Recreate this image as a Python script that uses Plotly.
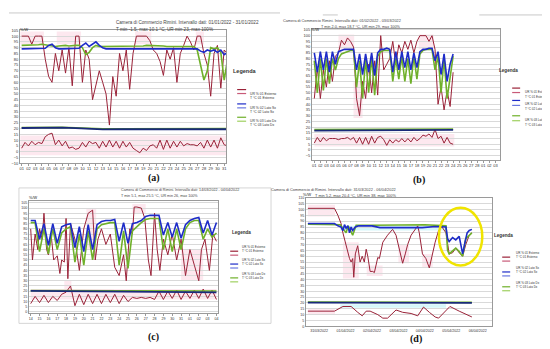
import plotly.graph_objects as go

W, H = 550, 349
def px(x): return x / W
def py(y): return 1 - y / H

FONT = "Liberation Sans"

# ---------------- Panel (a): January 2022 ----------------
days_a = [1 + 0.5 * i for i in range(62)]
ur_ext_a = [100, 100, 100, 93, 100, 100, 100, 80, 65, 60, 85, 70, 88, 68, 90, 57, 100, 100,
            60, 88, 80, 45, 58, 70, 60, 50, 23, 65, 48, 85, 70, 88, 54, 85, 100, 100, 100, 100,
            96, 88, 85, 78, 66, 88, 80, 90, 60, 85, 92, 100, 95, 88, 100, 100, 85, 75, 48, 85,
            92, 55, 88, 85]
ur_sx_a = [89, 89, 89, 89, 89.5, 89, 89, 89.5,
           92, 93, 90, 89, 89, 89, 89, 89, 89, 89.5,
           92, 94, 91, 93, 95, 92, 90, 89, 89, 89,
           89, 89, 89, 89, 89, 89, 89, 89, 89, 89, 89, 89, 89, 89, 89, 89, 89, 89, 89, 89, 89, 89, 89, 89,
           89, 87, 86, 88, 87, 88, 86, 88, 84, 86]
ur_dx_a = [92, 92, 92.5, 92, 92, 92.5, 93, 92.5, 92, 92, 91, 91.5, 92, 92, 91.5, 92, 92, 92,
           90, 84, 86, 90, 92, 91, 91, 91, 91, 91.5,
           91.5, 91, 91, 91, 91.5, 91, 91, 91, 91.5, 92, 92, 92, 91.5, 91.5, 91.5, 91, 91, 91, 91, 91.5, 91.5, 91, 91, 91,
           88, 75, 62, 70, 90, 89, 90, 86, 62, 80]
t_ext_a = [3, 8, 5, 9, 6, 8, 7, 13, 15, 16, 6, 10, 5, 9, 3, 4, 2, 3, 8, 4, 9, 7, 8, 3, 9, 4, 10, 4,
           9, 3, 9, 4, 8, 3, 1, -1, 3, 1, 5, 6, 3, 10, 2, 10, 3, 9, 4, 9, 5, 7, 6, 6, 5, 8, 3, 10,
           4, 10, 3, 12, 6, 5]
t_days_a = [1, 3, 5, 7, 9, 11, 13, 16, 20, 24, 28, 31.5]
t_sx_a = [20.5, 20.6, 21.0, 20.8, 20.3, 19.6, 19.3, 19.4, 19.4, 19.4, 19.5, 19.4]
t_dx_a = [20.8, 20.9, 21.3, 21.0, 20.6, 20.0, 19.8, 19.9, 19.9, 19.9, 20.1, 20.0]
ticks_a = ["%02d" % d for d in range(1, 32)]

# ---------------- Panel (b): February 2022 ----------------
days_b = [1 + 0.5 * i for i in range(47)]
ur_ext_b = [45, 72, 45, 70, 55, 78, 60, 82, 85, 96, 92, 98, 95, 90, 45, 30, 60, 45, 75, 50, 78, 48,
            100, 70, 75, 80, 95, 75, 92, 85, 95, 88, 96, 85, 95, 100, 100, 100, 95, 100, 88, 40,
            55, 35, 52, 38, 68]
ur_sx_b = [85, 68, 86, 70, 86, 68, 86, 75, 86, 87, 88, 88, 88, 88, 70, 84, 66, 84, 68, 85, 65, 85,
           88, 88, 89, 88, 68, 86, 70, 86, 72, 86, 70, 85, 72, 86, 88, 88, 89, 89, 78, 86, 66, 84,
           60, 75, 84]
ur_dx_b = [78, 50, 80, 52, 80, 58, 80, 70, 80, 84, 85, 86, 87, 87, 55, 78, 45, 80, 50, 82, 48, 82,
           86, 87, 87, 87, 60, 80, 62, 82, 60, 80, 58, 82, 62, 84, 87, 88, 88, 88, 70, 82, 50, 80,
           45, 65, 82]
t_ext_b = [6, 11, 7, 11, 8, 10, 10, 10, 9, 10, 10, 11, 9, 11, 6, 11, 5, 11, 5, 12, 6, 11, 12, 9,
           4, 9, 6, 9, 7, 10, 7, 10, 7, 11, 8, 10, 13, 12, 14, 11, 18, 10, 12, 6, 11, 6, 5]
t_days_b = [1, 6, 12, 18, 24]
t_sx_b = [17.0, 17.2, 17.3, 17.4, 17.6]
t_dx_b = [17.8, 17.9, 18.0, 18.2, 18.4]
ticks_b = ["%02d" % d for d in range(1, 29)] + ["01", "02", "03"]

# ---------------- Panel (c): 14 March - 4 April 2022 ----------------
x_ur_ext_c = [0, 0.2, 0.5, 0.8, 1.0, 1.3, 1.5, 1.8, 2.0, 2.3, 2.6, 3.0, 3.3, 3.5, 3.8, 4.0, 4.2, 4.5,
              5.0, 5.5, 6.0, 6.5, 7.0, 7.3, 7.6, 8.0, 8.5, 9.0, 9.5, 10.0, 10.5, 10.8, 11.2, 11.5,
              11.7, 12.0, 12.5, 12.9, 13.3, 13.6, 14.0, 14.3, 14.6, 15.0, 15.5, 16.0, 16.5, 17.0,
              17.5, 18.0, 18.5, 19.0, 19.3, 19.7, 20.2, 20.6, 21.0]
ur_ext_c = [80, 50, 75, 60, 80, 70, 95, 60, 55, 75, 50, 54, 37, 50, 48, 90, 32, 85, 70, 40, 80, 95,
            98, 50, 70, 80, 65, 75, 43, 35, 55, 30, 80, 75, 101, 101, 100, 90, 50, 35, 95, 60, 40,
            70, 55, 75, 50, 70, 35, 60, 45, 30, 60, 70, 40, 75, 68]
days_c = [0.5 * i for i in range(43)]
ur_sx_c = [88, 88, 70, 85, 64, 85, 66, 82, 84, 85, 62, 82, 58, 84, 60, 84, 87, 88, 88, 89, 68, 86,
           66, 85, 86, 88, 92, 93, 93, 93, 74, 86, 72, 86, 71, 84, 88, 90, 91, 76, 88, 74, 86]
ur_dx_c = [86, 86, 58, 80, 56, 80, 60, 76, 80, 82, 48, 75, 45, 78, 50, 80, 84, 85, 86, 86, 45, 78,
           42, 78, 82, 86, 89, 90, 90, 90, 60, 80, 58, 80, 60, 80, 86, 88, 88, 70, 80, 72, 76]
t_ext_c = [8, 15, 9, 16, 9, 15, 11, 17, 19, 25, 6, 17, 7, 17, 8, 17, 8, 17, 9, 17, 8, 16, 10, 14,
           13, 14, 13, 14, 12, 20, 12, 20, 13, 21, 12, 20, 13, 21, 13, 22, 13, 21, 12]
t_days_c = [0, 5, 10, 15, 21]
t_sx_c = [20.2, 19.8, 19.5, 19.2, 18.8]
t_dx_c = [20.5, 20.3, 20.2, 20.0, 20.2]
ticks_c = ["%02d" % d for d in range(14, 32)] + ["01", "02", "03", "04"]

# ---------------- Panel (d): 31 March - 6 April 2022 ----------------
x_ur_ext_d = [0.075, 1.08, 1.21, 1.33, 1.40, 1.52, 1.65, 1.71, 1.77, 1.81, 1.87, 1.96, 2.05, 2.13,
              2.21, 2.28, 2.34, 2.43, 2.53, 2.59, 2.72, 2.78, 2.91, 3.09, 3.28, 3.41, 3.53, 3.66,
              3.76, 3.85, 3.98, 4.10, 4.23, 4.29, 4.41, 4.54, 4.67, 4.77, 4.89, 5.02, 5.15, 5.30,
              5.42, 5.55, 5.67, 5.80, 5.93, 6.05, 6.18, 6.28]
ur_ext_d = [101, 101, 95, 88, 80, 69, 58, 55, 58, 42, 62, 69, 55, 60, 55, 66, 60, 47, 47, 46,
            59, 58, 72, 78, 83, 78, 66, 54, 62, 70, 78, 82, 86, 80, 62, 58, 50, 60, 72, 82,
            85, 80, 62, 63, 67, 63, 60, 70, 78, 80]
x_ur_sx_d = [0.075, 1.08, 1.21, 1.33, 1.40, 1.46, 1.52, 1.59, 1.65, 1.71, 1.77, 1.87, 2.0, 2.5,
             2.8, 3.5, 4.4, 4.9, 5.30, 5.36, 5.42, 5.55, 5.67, 5.80, 5.93, 6.02, 6.10, 6.18, 6.28]
ur_sx_d = [88, 88, 86, 85, 82, 87, 84, 86, 80, 85, 82, 85, 86, 86, 84.5, 84.5, 84.5, 85.5, 85,
           75, 72.5, 76, 74, 77, 62, 72, 80, 82, 83]
x_ur_dx_d = [0.075, 1.08, 1.3, 1.52, 1.6, 1.77, 1.9, 2.5, 3.5, 4.5, 5.30, 5.36, 5.42, 5.55, 5.67,
             5.80, 5.93, 6.05, 6.18, 6.28]
ur_dx_d = [87.5, 87.5, 87, 80, 86, 78, 86.5, 86.5, 86.5, 87, 86, 65, 62, 65, 67, 64, 60, 75, 78, 80]
x_t_ext_d = [0.075, 1.08, 1.4, 1.71, 1.96, 2.13, 2.28, 2.43, 2.72, 2.91, 3.09, 3.41, 3.66, 3.98,
             4.23, 4.45, 4.67, 4.89, 5.02, 5.45, 5.80, 6.10, 6.28]
t_ext_d = [13, 13, 17, 17, 12, 9, 13, 13, 10, 7, 7, 14, 12, 11, 9, 16.5, 12, 8, 7, 17, 13, 10, 8]
t_days_d = [0.075, 3, 6.28]
t_sx_d = [20.3, 20.1, 20.0]
t_dx_d = [20.8, 20.6, 20.5]
ticks_d = ["31/03/2022", "01/04/2022", "02/04/2022", "03/04/2022", "04/04/2022", "05/04/2022", "06/04/2022"]

titles = [
    ("Camera di Commercio Rimini. Intervallo dati: 01/01/2022 - 31/01/2022",
     "T min -1.5, max 10.1 °C, UR min 23, max 100%"),
    ("Camera di Commercio Rimini. Intervallo dati: 01/02/2022 - 03/03/2022",
     "T min 2.0, max 18.7 °C, UR min 29, max 100%"),
    ("Camera di Commercio di Rimini. Intervallo dati: 14/03/2022 - 04/04/2022",
     "T min 5.1, max 25.5 °C, UR min 26, max 100%"),
    ("Camera di Commercio di Rimini. Intervallo dati: 31/03/2022 - 06/04/2022",
     "T min 5.2, max 20.4 °C, UR min 38, max 100%"),
]
legend_labels = ["UR % 01 Esterno", "T °C 01 Esterno", "UR % 02 Lato Sx", "T °C 02 Lato Sx",
                 "UR % 03 Lato Dx", "T °C 03 Lato Dx"]
panel_labels = ["(a)", "(b)", "(c)", "(d)"]

C_RED = "#9a2238"
C_RED_L = "#c85a78"
C_BLUE = "#1e2cc8"
C_BLUE_L = "#6a78e0"
C_NAVY = "#1a2a7a"
C_GREEN = "#6fb02a"
C_GREEN_L = "#9fd060"
legend_colors = [C_RED, C_RED_L, C_BLUE, C_BLUE_L, C_GREEN, C_GREEN_L]

fig = go.Figure()

def add_panel(k, ext_x, ext_y, sx_x, sx_y, dx_x, dx_y, tx_ext, t_ext, t_x, t_sx, t_dx):
    xa = "x" if k == 1 else "x%d" % k
    ya = "y" if k == 1 else "y%d" % k
    common = dict(xaxis=xa, yaxis=ya, mode="lines", showlegend=False, hoverinfo="skip")
    fig.add_trace(go.Scatter(x=ext_x, y=ext_y, line=dict(color=C_RED, width=1), **common))
    fig.add_trace(go.Scatter(x=dx_x, y=dx_y, line=dict(color=C_GREEN, width=1.6), **common))
    fig.add_trace(go.Scatter(x=sx_x, y=sx_y, line=dict(color=C_BLUE, width=1.6), **common))
    fig.add_trace(go.Scatter(x=tx_ext, y=t_ext, line=dict(color=C_RED, width=1), **common))
    fig.add_trace(go.Scatter(x=t_x, y=t_dx, line=dict(color=C_GREEN, width=1.6), **common))
    fig.add_trace(go.Scatter(x=t_x, y=t_sx, line=dict(color=C_NAVY, width=1.8), **common))

add_panel(1, days_a, ur_ext_a, days_a, ur_sx_a, days_a, ur_dx_a, days_a, t_ext_a, t_days_a, t_sx_a, t_dx_a)
add_panel(2, days_b, ur_ext_b, days_b, ur_sx_b, days_b, ur_dx_b, days_b, t_ext_b, t_days_b, t_sx_b, t_dx_b)
add_panel(3, x_ur_ext_c, ur_ext_c, days_c, ur_sx_c, days_c, ur_dx_c, days_c, t_ext_c, t_days_c, t_sx_c, t_dx_c)
add_panel(4, x_ur_ext_d, ur_ext_d, x_ur_sx_d, ur_sx_d, x_ur_dx_d, ur_dx_d, x_t_ext_d, t_ext_d, t_days_d, t_sx_d, t_dx_d)

# plot area boxes in pixels: (left, top, right, bottom)
boxes = [(11, 20, 218, 155), (304, 19, 493, 152), (20, 193, 210, 307), (298, 190, 485, 320)]
yranges = [[-10, 105.5], [-9, 106], [-1.5, 107], [0, 110]]
xranges = [[0.75, 31.3], [0.6, 31.8], [-0.2, 21.2], [0, 7.05]]
xticks = [(list(range(1, 32)), ticks_a), (list(range(1, 32)), ticks_b),
          (list(range(0, 22)), ticks_c), ([i + 0.5 for i in range(7)], ticks_d)]
tfs = [4, 4, 3.6, 3.6]

layout = dict(width=W, height=H, margin=dict(l=0, r=0, t=0, b=0),
              paper_bgcolor="white", plot_bgcolor="white",
              font=dict(family=FONT, color="#333"))
for i, (l, t, r, b) in enumerate(boxes):
    k = i + 1
    xk = "xaxis" if k == 1 else "xaxis%d" % k
    yk = "yaxis" if k == 1 else "yaxis%d" % k
    xa = "x" if k == 1 else "x%d" % k
    ya = "y" if k == 1 else "y%d" % k
    layout[xk] = dict(domain=[px(l), px(r)], anchor=ya, range=xranges[i],
                      tickmode="array", tickvals=xticks[i][0], ticktext=xticks[i][1],
                      tickfont=dict(size=tfs[i], color="#333"), tickangle=0,
                      showgrid=False, zeroline=False, showline=True, mirror=True,
                      linecolor="#9a9a9a", linewidth=0.8,
                      ticks="outside" if k != 4 else "", ticklen=1.5, tickcolor="#9a9a9a")
    layout[yk] = dict(domain=[py(b), py(t)], anchor=xa, range=yranges[i],
                      tickmode="linear", tick0=0, dtick=5,
                      tickfont=dict(size=tfs[i], color="#333"),
                      showgrid=True, gridcolor="#d9d9d9", gridwidth=0.6, zeroline=False,
                      showline=True, mirror=True, linecolor="#9a9a9a", linewidth=0.8, ticks="")
fig.update_layout(**layout)

shapes = []
annotations = []

# faint background shading
def band(k, x0, x1, y0, y1, color):
    xa = "x" if k == 1 else "x%d" % k
    ya = "y" if k == 1 else "y%d" % k
    shapes.append(dict(type="rect", xref=xa, yref=ya, x0=x0, x1=x1, y0=y0, y1=y1,
                       fillcolor=color, line=dict(width=0), layer="below"))

PINK = "rgba(250,190,210,0.35)"
CYAN = "rgba(180,240,245,0.55)"
for (x0, x1, y0, y1) in [(0.8, 4.3, 93, 104), (6.2, 9.8, 93, 104), (17.8, 20.2, 93, 104),
                         (26.8, 28, 93, 104), (0.8, 31.3, -3, 14)]:
    band(1, x0, x1, y0, y1, PINK)
for (x0, x1, y0, y1) in [(5, 7.6, 88, 101), (18.3, 20.8, 88, 101), (1, 24.2, 3, 14), (7.5, 9, 28, 60)]:
    band(2, x0, x1, y0, y1, PINK)
for (x0, x1, y0, y1) in [(11.5, 13, 95, 104), (0, 21, 12, 22), (3.8, 4.6, 22, 30), (6.3, 7.4, 60, 100),
                         (17, 19.5, 30, 60)]:
    band(3, x0, x1, y0, y1, PINK)
for (x0, x1, y0, y1) in [(0.075, 1.1, 94, 104), (1.4, 2.0, 41, 72), (2.3, 2.9, 43, 52),
                         (0.075, 1.1, 10, 15), (3.5, 3.9, 54, 70), (4.4, 4.8, 50, 62)]:
    band(4, x0, x1, y0, y1, PINK)
band(4, 1.3, 5.3, 16, 19, CYAN)
band(4, 1.3, 5.3, 82, 86, CYAN)

# titles
title_pos = [(105, 8, 15, 4.6), (395, 7, 13, 3.8), (110, 182, 188, 3.7), (390, 182, 188, 3.9)]
for (l1, l2), (cx, y1, y2, fs) in zip(titles, title_pos):
    annotations.append(dict(x=px(cx), y=py(y1), xref="paper", yref="paper", text=l1,
                            showarrow=False, font=dict(size=fs, color="#444")))
    annotations.append(dict(x=px(cx), y=py(y2), xref="paper", yref="paper", text=l2,
                            showarrow=False, font=dict(size=fs, color="#444")))

# y-axis unit labels
for (x, y) in [(9, 16), (307, 16), (18, 190), (299, 187)]:
    annotations.append(dict(x=px(x), y=py(y), xref="paper", yref="paper", text="%/W",
                            showarrow=False, font=dict(size=3.8, color="#222")))

# legends
leg = [
    (237, 57, 229, 238, 240, [80.5, 84.5, 95, 99, 108.5, 112.5], 5.5, 3.4),
    (513, 57, 505, 513, 516, [79, 83.5, 91.5, 96.5, 107, 112], 4.6, 3.0),
    (233, 225, 222, 230, 232, [244, 248, 257, 261, 271, 275], 4.6, 3.0),
    (508, 228, 495, 503, 507, [250, 254, 265, 269, 280, 284], 4.6, 3.0),
]
for (lx, ly, s0, s1, tx, rows, fs_head, fs_row) in leg:
    annotations.append(dict(x=px(lx), y=py(ly), xref="paper", yref="paper", text="<b>Legenda</b>",
                            showarrow=False, font=dict(size=fs_head, color="#333")))
    for lab, col, ry in zip(legend_labels, legend_colors, rows):
        shapes.append(dict(type="line", xref="paper", yref="paper", x0=px(s0), x1=px(s1),
                           y0=py(ry), y1=py(ry), line=dict(color=col, width=1.2)))
        annotations.append(dict(x=px(tx), y=py(ry), xref="paper", yref="paper", text=lab,
                                xanchor="left", showarrow=False, font=dict(size=fs_row, color="#333")))

# panel labels
for lab, (x, y) in zip(panel_labels, [(137, 170), (420, 172), (138, 339), (417, 341)]):
    annotations.append(dict(x=px(x), y=py(y), xref="paper", yref="paper", text="<b>%s</b>" % lab,
                            showarrow=False, font=dict(size=10, family="Liberation Serif", color="#111")))

# decorative lines / frames
shapes.append(dict(type="line", xref="paper", yref="paper", x0=px(0), x1=px(272), y0=py(3), y1=py(3),
                   line=dict(color="#bbbbbb", width=0.8)))
shapes.append(dict(type="line", xref="paper", yref="paper", x0=px(315), x1=px(330), y0=py(5), y1=py(5),
                   line=dict(color="#bbbbbb", width=0.8)))
shapes.append(dict(type="line", xref="paper", yref="paper", x0=px(472), x1=px(548), y0=py(5), y1=py(5),
                   line=dict(color="#bbbbbb", width=0.8)))
shapes.append(dict(type="rect", xref="paper", yref="paper", x0=px(10), x1=px(263), y0=py(317), y1=py(180),
                   line=dict(color="#cccccc", width=0.8)))
# yellow hand-drawn highlight in (d)
shapes.append(dict(type="circle", xref="paper", yref="paper", x0=px(431.5), x1=px(475), y0=py(258.5), y1=py(200),
                   line=dict(color="#f0e400", width=2.5)))

fig.update_layout(shapes=shapes, annotations=annotations)
fig.write_html("out.html")
